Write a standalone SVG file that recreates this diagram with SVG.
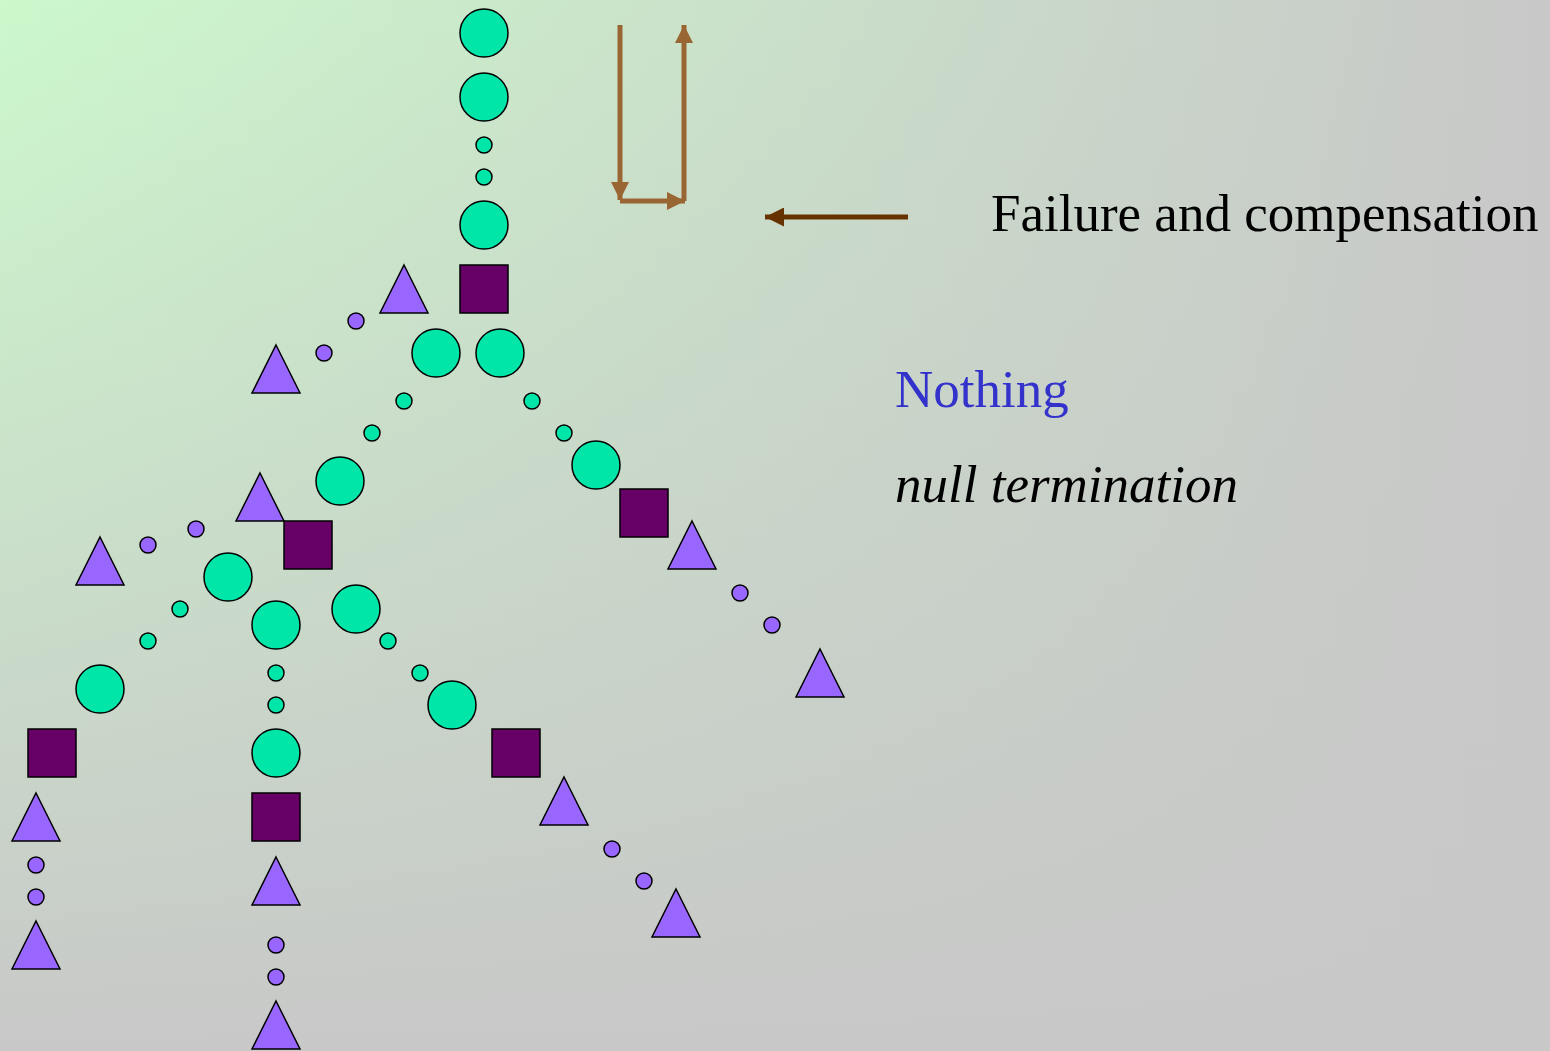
<svg xmlns="http://www.w3.org/2000/svg" width="1550" height="1051" viewBox="0 0 1550 1051">
<defs>
<linearGradient id="bgH" x1="0" y1="0" x2="1" y2="0">
<stop offset="0" stop-color="#ccf8cc"/>
<stop offset="1" stop-color="#c8c8c8"/>
</linearGradient>
<linearGradient id="bgV" x1="0" y1="0" x2="0" y2="1">
<stop offset="0" stop-color="#c8c8c8" stop-opacity="0"/>
<stop offset="1" stop-color="#c8c8c8" stop-opacity="1"/>
</linearGradient>
<marker id="headL" viewBox="0 0 10 10" refX="10" refY="5" markerWidth="3.6" markerHeight="3.6" orient="auto" markerUnits="strokeWidth">
<path d="M0,0 L10,5 L0,10 z" fill="#996633"/>
</marker>
<marker id="headD" viewBox="0 0 10 10" refX="10" refY="5" markerWidth="3.8" markerHeight="3.8" orient="auto" markerUnits="strokeWidth">
<path d="M0,0 L10,5 L0,10 z" fill="#663300"/>
</marker>
<style>
.big{fill:#00e5a8;stroke:#000;stroke-width:1.5}
.sm{fill:#00e5a8;stroke:#000;stroke-width:1.5}
.smp{fill:#9966ff;stroke:#000;stroke-width:1.5}
.sq{fill:#660066;stroke:#000;stroke-width:1.5}
.tri{fill:#9966ff;stroke:#000;stroke-width:1.5}
.arr{fill:none;stroke:#996633;stroke-width:5}
.arr2{fill:none;stroke:#663300;stroke-width:5}
.t{font-family:"Liberation Serif","Times New Roman",serif;font-size:53px}
</style>
</defs>
<rect width="1550" height="1051" fill="url(#bgH)"/>
<rect width="1550" height="1051" fill="url(#bgV)"/>

<g id="connectors">
<line class="arr" x1="620" y1="25" x2="620" y2="200" marker-end="url(#headL)"/>
<line class="arr" x1="620" y1="201" x2="685" y2="201" marker-end="url(#headL)"/>
<line class="arr" x1="684" y1="201" x2="684" y2="25" marker-end="url(#headL)"/>
<line class="arr2" x1="908" y1="217" x2="765" y2="217" marker-end="url(#headD)"/>
</g>

<!-- trunk -->
<g id="n1"><circle class="big" cx="484" cy="33" r="24"/></g>
<g id="n2"><circle class="big" cx="484" cy="97" r="24"/></g>
<g id="n3"><circle class="sm" cx="484" cy="145" r="8"/></g>
<g id="n4"><circle class="sm" cx="484" cy="177" r="8"/></g>
<g id="n5"><circle class="big" cx="484" cy="225" r="24"/></g>
<g id="n6"><rect class="sq" x="460" y="265" width="48" height="48"/></g>
<g id="n7"><polygon class="tri" points="404,265 428,313 380,313"/></g>
<g id="n8"><circle class="smp" cx="356" cy="321" r="8"/></g>
<g id="n9"><circle class="smp" cx="324" cy="353" r="8"/></g>
<g id="n10"><polygon class="tri" points="276,345 300,393 252,393"/></g>
<g id="n11"><circle class="big" cx="436" cy="353" r="24"/></g>
<g id="n12"><circle class="big" cx="500" cy="353" r="24"/></g>

<!-- left branch -->
<g id="n13"><circle class="sm" cx="404" cy="401" r="8"/></g>
<g id="n14"><circle class="sm" cx="372" cy="433" r="8"/></g>
<g id="n15"><circle class="big" cx="340" cy="481" r="24"/></g>
<g id="n16"><polygon class="tri" points="260,473 284,521 236,521"/></g>
<g id="n17"><rect class="sq" x="284" y="521" width="48" height="48"/></g>
<g id="n18"><circle class="smp" cx="196" cy="529" r="8"/></g>
<g id="n19"><circle class="smp" cx="148" cy="545" r="8"/></g>
<g id="n20"><polygon class="tri" points="100,537 124,585 76,585"/></g>
<g id="n21"><circle class="big" cx="228" cy="577" r="24"/></g>
<g id="n22"><circle class="big" cx="276" cy="625" r="24"/></g>
<g id="n23"><circle class="big" cx="356" cy="609" r="24"/></g>

<g id="n24"><circle class="sm" cx="180" cy="609" r="8"/></g>
<g id="n25"><circle class="sm" cx="148" cy="641" r="8"/></g>
<g id="n26"><circle class="big" cx="100" cy="689" r="24"/></g>
<g id="n27"><rect class="sq" x="28" y="729" width="48" height="48"/></g>
<g id="n28"><polygon class="tri" points="36,793 60,841 12,841"/></g>
<g id="n29"><circle class="smp" cx="36" cy="865" r="8"/></g>
<g id="n30"><circle class="smp" cx="36" cy="897" r="8"/></g>
<g id="n31"><polygon class="tri" points="36,921 60,969 12,969"/></g>

<g id="n32"><circle class="sm" cx="276" cy="673" r="8"/></g>
<g id="n33"><circle class="sm" cx="276" cy="705" r="8"/></g>
<g id="n34"><circle class="big" cx="276" cy="753" r="24"/></g>
<g id="n35"><rect class="sq" x="252" y="793" width="48" height="48"/></g>
<g id="n36"><polygon class="tri" points="276,857 300,905 252,905"/></g>
<g id="n37"><circle class="smp" cx="276" cy="945" r="8"/></g>
<g id="n38"><circle class="smp" cx="276" cy="977" r="8"/></g>
<g id="n39"><polygon class="tri" points="276,1001 300,1049 252,1049"/></g>

<g id="n40"><circle class="sm" cx="388" cy="641" r="8"/></g>
<g id="n41"><circle class="sm" cx="420" cy="673" r="8"/></g>
<g id="n42"><circle class="big" cx="452" cy="705" r="24"/></g>
<g id="n43"><rect class="sq" x="492" y="729" width="48" height="48"/></g>
<g id="n44"><polygon class="tri" points="564,777 588,825 540,825"/></g>
<g id="n45"><circle class="smp" cx="612" cy="849" r="8"/></g>
<g id="n46"><circle class="smp" cx="644" cy="881" r="8"/></g>
<g id="n47"><polygon class="tri" points="676,889 700,937 652,937"/></g>

<!-- right branch -->
<g id="n48"><circle class="sm" cx="532" cy="401" r="8"/></g>
<g id="n49"><circle class="sm" cx="564" cy="433" r="8"/></g>
<g id="n50"><circle class="big" cx="596" cy="465" r="24"/></g>
<g id="n51"><rect class="sq" x="620" y="489" width="48" height="48"/></g>
<g id="n52"><polygon class="tri" points="692,521 716,569 668,569"/></g>
<g id="n53"><circle class="smp" cx="740" cy="593" r="8"/></g>
<g id="n54"><circle class="smp" cx="772" cy="625" r="8"/></g>
<g id="n55"><polygon class="tri" points="820,649 844,697 796,697"/></g>

<g id="labels">
<text class="t" x="991" y="231" fill="#000">Failure and compensation</text>
<text class="t" x="895" y="407" fill="#3333cc">Nothing</text>
<text class="t" x="895" y="502" fill="#000" font-style="italic">null termination</text>
</g>
</svg>
